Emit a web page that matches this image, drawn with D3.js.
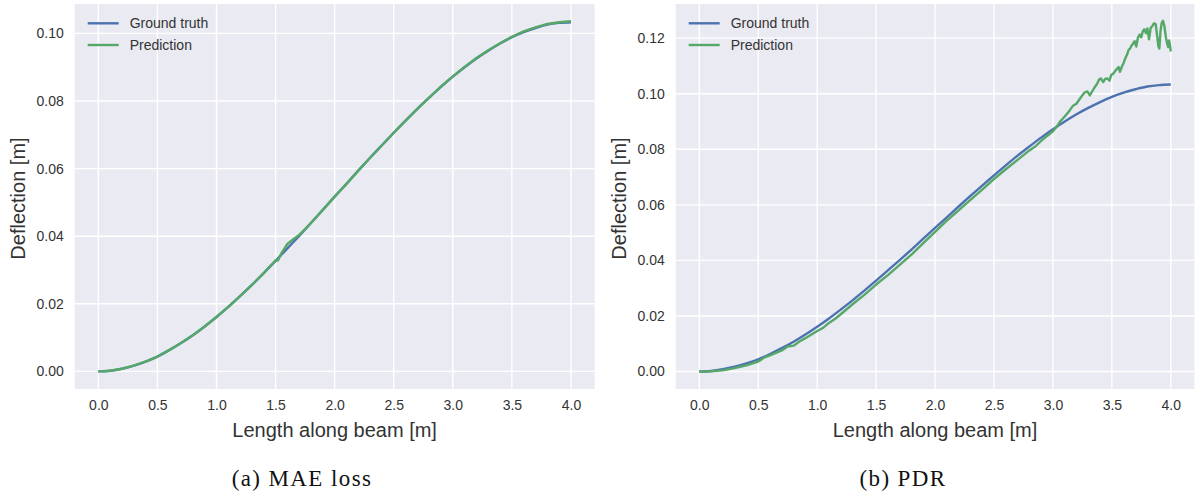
<!DOCTYPE html>
<html><head><meta charset="utf-8">
<script src="https://cdn.jsdelivr.net/npm/d3@7"></script>
<style>
body{margin:0;background:#fff}
svg{display:block}
</style>
</head><body>
<svg id="c" width="1196" height="495"></svg>
<script>
// ---- data ----
const xTicks = [0, 0.5, 1.0, 1.5, 2.0, 2.5, 3.0, 3.5, 4.0];
const yTicksMAE = [0, 0.02, 0.04, 0.06, 0.08, 0.10];
const yTicksPDR = [0, 0.02, 0.04, 0.06, 0.08, 0.10, 0.12];
const seriesNames = ["Ground truth", "Prediction"];
const captions = ["(a) MAE loss", "(b) PDR"];

const gtX = [0,0.1,0.2,0.3,0.4,0.5,0.6,0.7,0.8,0.9,1.0,1.1,1.2,1.3,1.4,1.5,1.6,1.7,1.8,1.9,2.0,
             2.1,2.2,2.3,2.4,2.5,2.6,2.7,2.8,2.9,3.0,3.1,3.2,3.3,3.4,3.5,3.6,3.7,3.8,3.9,4.0];
const gtY = [0,0.0002,0.0008,0.0017,0.0029,0.0044,0.0063,0.0084,0.0107,0.0133,0.0161,0.0191,0.0223,
             0.0256,0.0291,0.0327,0.0364,0.0401,0.0439,0.0478,0.0517,0.0555,0.0594,0.0632,0.0669,
             0.0706,0.0742,0.0777,0.0810,0.0842,0.0872,0.0900,0.0926,0.0949,0.0970,0.0989,0.1004,
             0.1016,0.1026,0.1031,0.1033];

const maeX = [0,0.1,0.2,0.3,0.4,0.5,0.6,0.7,0.8,0.9,1.0,1.1,1.2,1.3,1.4,1.45,1.5,1.52,1.55,1.6,1.65,
              1.7,1.75,1.8,1.9,2.0,2.1,2.2,2.3,2.4,2.5,2.6,2.7,2.8,2.9,3.0,3.1,3.2,3.3,3.4,3.5,3.6,
              3.7,3.8,3.9,4.0];
const maeY = [0,0.0002,0.0008,0.0017,0.0029,0.0044,0.0063,0.0084,0.0107,0.0133,0.0161,0.0191,0.0223,
              0.0256,0.0291,0.0310,0.0329,0.0328,0.0350,0.0377,0.0391,0.0404,0.0421,0.0440,0.0478,
              0.0517,0.0555,0.0594,0.0632,0.0669,0.0706,0.0742,0.0777,0.0810,0.0843,0.0873,0.0901,
              0.0927,0.0950,0.0971,0.0990,0.1006,0.1018,0.1028,0.1033,0.1036];

const pdrX = [0,0.1,0.2,0.3,0.4,0.5,0.52,0.55,0.6,0.7,0.75,0.8,0.85,0.9,1.0,1.05,1.1,1.15,1.2,1.3,1.4,
              1.5,1.6,1.7,1.8,1.9,2.0,2.1,2.2,2.3,2.4,2.5,2.6,2.7,2.8,2.85,2.9,2.95,3.0,3.03,3.057,
              3.100,3.142,3.171,3.199,3.227,3.247,3.270,3.293,3.313,3.332,3.355,3.375,3.392,3.406,
              3.426,3.443,3.463,3.480,3.494,3.511,3.528,3.543,3.557,3.568,3.585,3.599,3.614,3.628,
              3.642,3.653,3.665,3.679,3.693,3.707,3.721,3.736,3.750,3.761,3.775,3.790,3.801,3.815,
              3.829,3.844,3.858,3.872,3.883,3.895,3.903,3.912,3.923,3.934,3.946,3.957,3.968,3.977,
              3.986,4.000];
const pdrY = [0,0.0001,0.0004,0.0012,0.0022,0.0036,0.0041,0.0050,0.0058,0.0076,0.0090,0.0093,0.0108,
              0.0120,0.0146,0.0157,0.0175,0.0189,0.0206,0.0242,0.0276,0.0313,0.0347,0.0384,0.0421,
              0.0462,0.0503,0.0543,0.0580,0.0618,0.0655,0.0693,0.0728,0.0762,0.0796,0.0810,0.0830,
              0.0848,0.0865,0.0880,0.0898,0.0918,0.0940,0.0957,0.0964,0.0981,0.0993,0.1005,0.1008,
              0.0994,0.1008,0.1024,0.1036,0.1051,0.1055,0.1042,0.1053,0.1055,0.1047,0.1067,0.1072,
              0.1082,0.1090,0.1096,0.1079,0.1098,0.1110,0.1128,0.1140,0.1158,0.1162,0.1172,0.1180,
              0.1189,0.1170,0.1202,0.1213,0.1203,0.1223,0.1232,0.1218,0.1235,0.1196,0.1237,0.1244,
              0.1254,0.1250,0.1212,0.1170,0.1163,0.1224,0.1256,0.1263,0.1242,0.1206,0.1182,0.1168,
              0.1192,0.1152];

const yDomainMAE = [-0.0052, 0.1087];
const yDomainPDR = [-0.0063, 0.1323];
const xDomain = [-0.2, 4.2];

// ---- drawing ----
const svg = d3.select("#c");
const BG = "#EAEAF2", BLUE = "#4C72B0", GREEN = "#55A868", TXT = "#333333";
const SANS = '"Liberation Sans", Arial, sans-serif';
const SERIF = '"Liberation Serif", "Times New Roman", serif';

const panels = [
  {x0: 74.7, x1: 594.6, yDom: yDomainMAE, yTicks: yTicksMAE, px: maeX, py: maeY, cap: captions[0], capX: 302},
  {x0: 675.7, x1: 1194.4, yDom: yDomainPDR, yTicks: yTicksPDR, px: pdrX, py: pdrY, cap: captions[1], capX: 903}
];
const plotTop = 4, plotBottom = 389;

panels.forEach(p => {
  const x = d3.scaleLinear().domain(xDomain).range([p.x0, p.x1]);
  const y = d3.scaleLinear().domain(p.yDom).range([plotBottom, plotTop]);
  const g = svg.append("g");

  g.append("rect").attr("x", p.x0).attr("y", plotTop)
    .attr("width", p.x1 - p.x0).attr("height", plotBottom - plotTop).attr("fill", BG);

  // grid
  g.selectAll(".vg").data(xTicks).enter().append("line")
    .attr("x1", d => x(d)).attr("x2", d => x(d)).attr("y1", plotTop).attr("y2", plotBottom)
    .attr("stroke", "#fff").attr("stroke-width", 1.4);
  g.selectAll(".hg").data(p.yTicks).enter().append("line")
    .attr("y1", d => y(d)).attr("y2", d => y(d)).attr("x1", p.x0).attr("x2", p.x1)
    .attr("stroke", "#fff").attr("stroke-width", 1.4);

  // axes (tick labels only, seaborn style)
  const xa = d3.axisBottom(x).tickValues(xTicks).tickFormat(d3.format(".1f")).tickSize(0).tickPadding(11);
  const xg = g.append("g").attr("transform", `translate(0,${plotBottom})`).call(xa);
  const ya = d3.axisLeft(y).tickValues(p.yTicks).tickFormat(d3.format(".2f")).tickSize(0).tickPadding(11);
  const yg = g.append("g").attr("transform", `translate(${p.x0},0)`).call(ya);
  [xg, yg].forEach(a => {
    a.select(".domain").remove();
    a.selectAll("text").attr("font-size", 14).attr("fill", TXT).style("font-family", SANS);
  });

  // axis labels
  g.append("text").attr("x", (p.x0 + p.x1) / 2).attr("y", 437).attr("text-anchor", "middle")
    .style("font-family", SANS).attr("font-size", 20).attr("fill", TXT).text("Length along beam [m]");
  g.append("text").attr("transform", `translate(${p.x0 - 50},${(plotTop + plotBottom) / 2 + 2}) rotate(-90)`)
    .attr("text-anchor", "middle").style("font-family", SANS).attr("font-size", 20)
    .attr("fill", TXT).text("Deflection [m]");

  // lines
  const gt = gtX.map((v, i) => [v, gtY[i]]);
  const pr = p.px.map((v, i) => [v, p.py[i]]);
  g.append("path").datum(gt)
    .attr("d", d3.line().x(d => x(d[0])).y(d => y(d[1])).curve(d3.curveMonotoneX))
    .attr("fill", "none").attr("stroke", BLUE).attr("stroke-width", 2.4);
  g.append("path").datum(pr)
    .attr("d", d3.line().x(d => x(d[0])).y(d => y(d[1])))
    .attr("fill", "none").attr("stroke", GREEN).attr("stroke-width", 2.4)
    .attr("stroke-linejoin", "round");

  // legend
  const lx = p.x0 + 13;
  [BLUE, GREEN].forEach((c, i) => {
    const ly = 23.3 + i * 21.7;
    g.append("line").attr("x1", lx).attr("x2", lx + 31).attr("y1", ly).attr("y2", ly)
      .attr("stroke", c).attr("stroke-width", 2.4);
    g.append("text").attr("x", lx + 42).attr("y", ly + 5).attr("font-size", 14)
      .style("font-family", SANS).attr("fill", TXT).text(seriesNames[i]);
  });

  // caption
  g.append("text").attr("x", p.capX).attr("y", 486).attr("text-anchor", "middle")
    .style("font-family", SERIF)
    .attr("font-size", 23).attr("fill", "#111").attr("letter-spacing", 1.4).text(p.cap);
});
</script>
</body></html>
